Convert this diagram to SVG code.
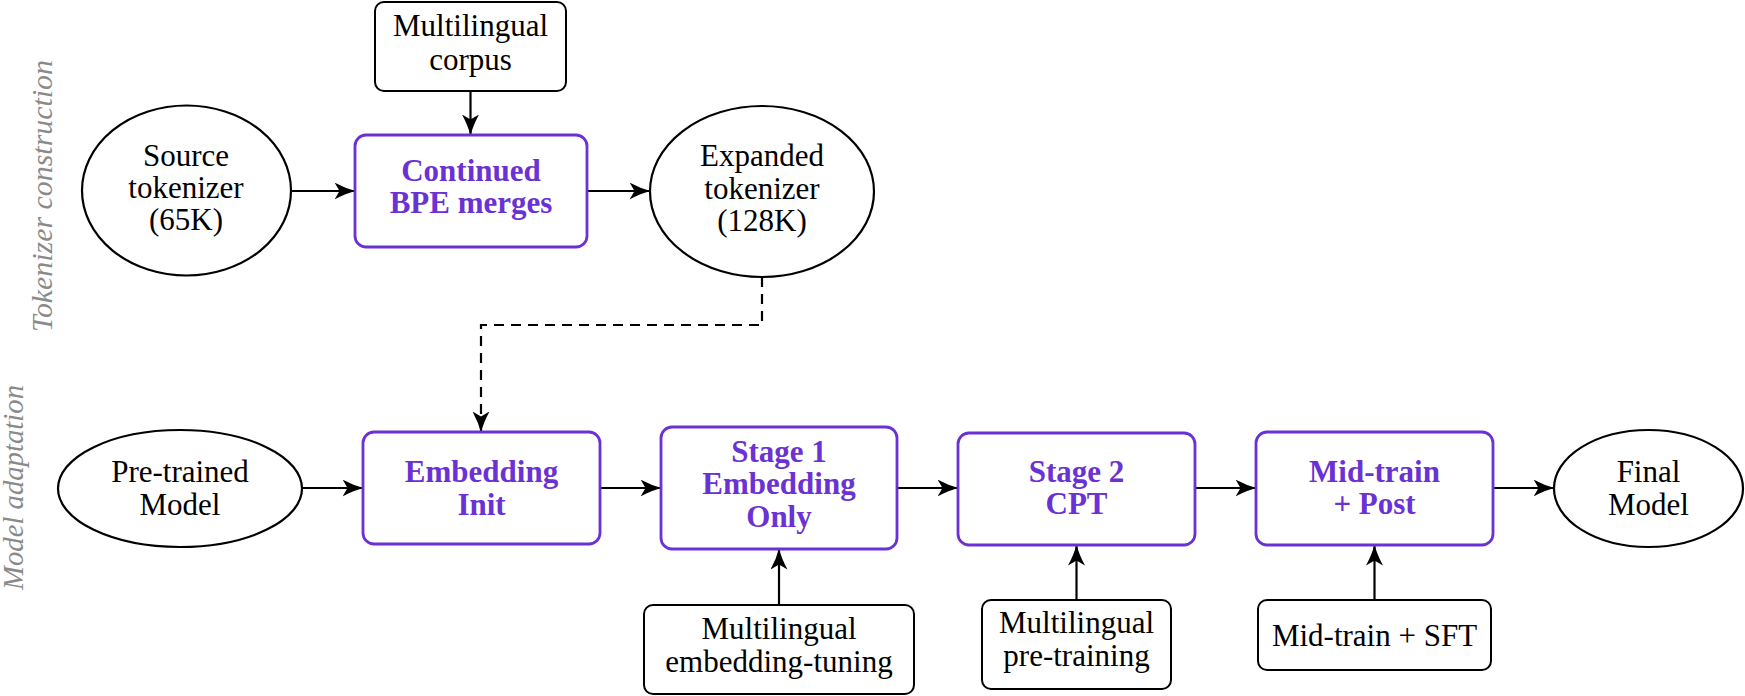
<svg xmlns="http://www.w3.org/2000/svg" width="1745" height="696" viewBox="0 0 1745 696">
<style>
  text { font-family: "Liberation Serif", "Times New Roman", serif; font-size: 31px; fill: #000; text-anchor: middle; }
  .bold { font-weight: bold; fill: #6a32d4; font-size: 31px; }
  .side { font-style: italic; fill: #8a8a8a; font-size: 29px; }
  .ell { fill: #fff; stroke: #000; stroke-width: 2.2; }
  .box { fill: #fff; stroke: #000; stroke-width: 2; }
  .pbox { fill: #fff; stroke: #6a32d4; stroke-width: 2.8; }
  .conn { fill: none; stroke: #000; stroke-width: 2.2; marker-end: url(#arr); }
  .dash { stroke-dasharray: 10 7; }
</style>
<defs>
  <marker id="arr" viewBox="0 0 21 17" markerWidth="21" markerHeight="17" refX="20.5" refY="8.5" orient="auto" markerUnits="userSpaceOnUse">
    <path d="M0,0 Q11,6 21,8.5 Q11,11 0,17 L5,8.5 Z" fill="#000"/>
  </marker>
</defs>

<g id="labels">
  <text class="side" transform="translate(52,196) rotate(-90)" textLength="272" lengthAdjust="spacingAndGlyphs">Tokenizer construction</text>
  <text class="side" transform="translate(23,487.5) rotate(-90)" textLength="205" lengthAdjust="spacingAndGlyphs">Model adaptation</text>
</g>

<g id="connectors">
  <path class="conn" d="M470.5,91 L470.5,135"/>
  <path class="conn" d="M291,191 L355,191"/>
  <path class="conn" d="M587,191 L650,191"/>
  <path class="conn dash" d="M762,277 L762,325 L481,325 L481,432"/>
  <path class="conn" d="M302,488 L363,488"/>
  <path class="conn" d="M600,488 L661,488"/>
  <path class="conn" d="M897,488 L958,488"/>
  <path class="conn" d="M1195,488 L1256,488"/>
  <path class="conn" d="M1493,488 L1554,488"/>
  <path class="conn" d="M779,605 L779,549"/>
  <path class="conn" d="M1076.5,600 L1076.5,545"/>
  <path class="conn" d="M1374.5,600 L1374.5,545"/>
</g>

<g id="corpus">
  <rect class="box" x="375" y="2" width="191" height="89" rx="9"/>
  <text x="470.5" y="36">Multilingual</text>
  <text x="470.5" y="70">corpus</text>
</g>

<g id="source">
  <ellipse class="ell" cx="186.5" cy="190.5" rx="104.5" ry="85"/>
  <text x="186" y="166">Source</text>
  <text x="186" y="198">tokenizer</text>
  <text x="186" y="230">(65K)</text>
</g>

<g id="bpe">
  <rect class="pbox" x="355" y="135" width="232" height="112" rx="11"/>
  <text class="bold" x="471" y="181">Continued</text>
  <text class="bold" x="471" y="213">BPE merges</text>
</g>

<g id="expanded">
  <ellipse class="ell" cx="762" cy="191.5" rx="112" ry="85.5"/>
  <text x="762" y="166">Expanded</text>
  <text x="762" y="198.5">tokenizer</text>
  <text x="762" y="231">(128K)</text>
</g>

<g id="pretrained">
  <ellipse class="ell" cx="180" cy="488.5" rx="122" ry="58.5"/>
  <text x="180" y="482">Pre-trained</text>
  <text x="180" y="515">Model</text>
</g>

<g id="embinit">
  <rect class="pbox" x="363" y="432" width="237" height="112" rx="11"/>
  <text class="bold" x="481.5" y="482">Embedding</text>
  <text class="bold" x="481.5" y="515">Init</text>
</g>

<g id="stage1">
  <rect class="pbox" x="661" y="427" width="236" height="122" rx="11"/>
  <text class="bold" x="779" y="462">Stage 1</text>
  <text class="bold" x="779" y="494">Embedding</text>
  <text class="bold" x="779" y="527">Only</text>
</g>

<g id="stage2">
  <rect class="pbox" x="958" y="433" width="237" height="112" rx="11"/>
  <text class="bold" x="1076.5" y="482">Stage 2</text>
  <text class="bold" x="1076.5" y="514">CPT</text>
</g>

<g id="midtrain">
  <rect class="pbox" x="1256" y="432" width="237" height="113" rx="11"/>
  <text class="bold" x="1374.5" y="482">Mid-train</text>
  <text class="bold" x="1374.5" y="514">+ Post</text>
</g>

<g id="final">
  <ellipse class="ell" cx="1648.5" cy="488.5" rx="94.5" ry="58.5"/>
  <text x="1648.5" y="482">Final</text>
  <text x="1648.5" y="515">Model</text>
</g>

<g id="embtuning">
  <rect class="box" x="644" y="605" width="270" height="89" rx="9"/>
  <text x="779" y="639">Multilingual</text>
  <text x="779" y="672">embedding-tuning</text>
</g>

<g id="pretraining">
  <rect class="box" x="982" y="600" width="189" height="89" rx="9"/>
  <text x="1076.5" y="633">Multilingual</text>
  <text x="1076.5" y="666">pre-training</text>
</g>

<g id="sft">
  <rect class="box" x="1258" y="600" width="233" height="70" rx="9"/>
  <text x="1374.5" y="646">Mid-train + SFT</text>
</g>
</svg>
